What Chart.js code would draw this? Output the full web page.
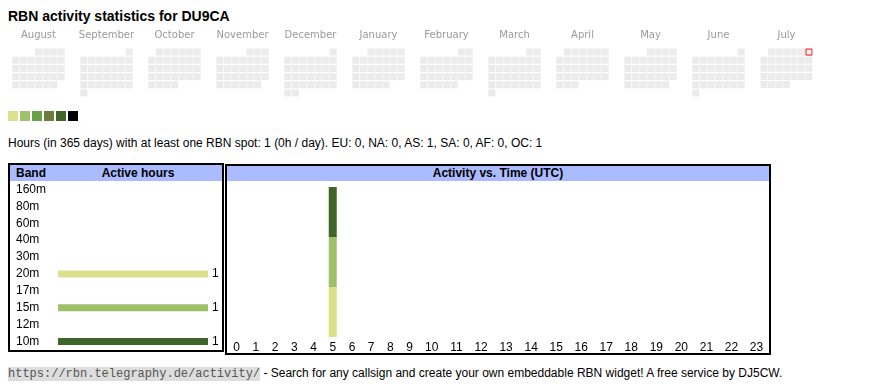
<!DOCTYPE html>
<html><head><meta charset="utf-8">
<script src="https://cdn.jsdelivr.net/npm/chart.js@4"></script>
<style>
html,body{margin:0;padding:0;background:#fff;}
body{width:870px;height:390px;position:relative;overflow:hidden;font-family:"Liberation Sans",Arial,sans-serif;font-size:12px;color:#000;}
#title{position:absolute;left:8px;top:8px;font-size:14px;font-weight:bold;line-height:16px;white-space:nowrap;}
#cal{position:absolute;left:7px;top:26px;display:flex;gap:5px;}
#cal canvas{display:block;}
#legend{position:absolute;left:8px;top:111px;display:flex;gap:2px;}
#legend span{width:10px;height:10px;display:block;}
#stats{position:absolute;left:8px;top:136px;line-height:14px;white-space:nowrap;}
.box{position:absolute;box-sizing:border-box;border:2px solid #000;background:#fff;}
.box canvas{display:block;}
#bandBox{left:8px;top:163px;width:216px;height:189px;}
#hourBox{left:225px;top:164px;width:546px;height:191px;}
.hdr{position:relative;background:#aabbff;font-weight:bold;font-size:12px;white-space:nowrap;}
#bandBox .hdr{height:16px;line-height:16px;}
#bandBox .hdr .c1{position:absolute;left:6px;top:0;}
#bandBox .hdr .c2{position:absolute;left:48px;width:160px;top:0;text-align:center;}
#hourBox .hdr{height:15px;line-height:15px;text-align:center;}
#footer{position:absolute;left:8px;top:366px;line-height:15px;white-space:nowrap;}
#footer code{font-family:"Liberation Mono",monospace;font-size:12px;background:#dddddd;color:#555;}
</style></head>
<body>
<div id="title"></div>
<div id="cal"></div>
<div id="legend"></div>
<div id="stats"></div>
<div class="box" id="bandBox"><div class="hdr"><span class="c1">Band</span><span class="c2">Active hours</span></div><canvas id="bandChart" width="212" height="169"></canvas></div>
<div class="box" id="hourBox"><div class="hdr">Activity vs. Time (UTC)</div><canvas id="hourChart" width="542" height="172"></canvas></div>
<div id="footer"><code>https://rbn.telegraphy.de/activity/</code> - Search for any callsign and create your own embeddable RBN widget! A free service by DJ5CW.</div>
<script>
// ---------- data ----------
const callsign = 'DU9CA';
const periodDays = 365;
const monthNames = ['August','September','October','November','December','January','February','March','April','May','June','July'];
const firstMonth = [2024, 8];           // year, month of the first calendar block
const todayDate = '2025-07-06';          // outlined in red
const activeDays = [];                   // days with a coloured level (none visible)
const activeDayLevels = [];
const levelColors = ['#dbe08b', '#9ec06a', '#6aa047', '#6b7b3b', '#3d6628', '#000000'];
const emptyCellColor = '#ebebeb';

const bands = ['160m','80m','60m','40m','30m','20m','17m','15m','12m','10m'];
const bandHours = [0, 0, 0, 0, 0, 1, 0, 1, 0, 1];
const bandColors = ['#000000','#3d6628','#6b7b3b','#6aa047','#b5cf7a','#dbe08b','#c4d27a','#9ec06a','#5c8a3a','#3d6628'];

const hourLabels = ['0','1','2','3','4','5','6','7','8','9','10','11','12','13','14','15','16','17','18','19','20','21','22','23'];
const hours20m = [0,0,0,0,0,1,0,0,0,0,0,0,0,0,0,0,0,0,0,0,0,0,0,0];
const hours15m = [0,0,0,0,0,1,0,0,0,0,0,0,0,0,0,0,0,0,0,0,0,0,0,0];
const hours10m = [0,0,0,0,0,1,0,0,0,0,0,0,0,0,0,0,0,0,0,0,0,0,0,0];

const continents = ['EU','NA','AS','SA','AF','OC'];
const continentHours = [0, 0, 1, 0, 0, 1];
const totalHours = 1;

// ---------- text ----------
document.getElementById('title').textContent = 'RBN activity statistics for ' + callsign;
document.getElementById('stats').textContent =
  'Hours (in ' + periodDays + ' days) with at least one RBN spot: ' + totalHours +
  ' (' + Math.round(totalHours / periodDays) + 'h / day). ' +
  continents.map((c, i) => c + ': ' + continentHours[i]).join(', ');
const legendEl = document.getElementById('legend');
levelColors.forEach(c => { const s = document.createElement('span'); s.style.background = c; legendEl.appendChild(s); });

Chart.defaults.font.family = '"Liberation Sans", Arial, sans-serif';
Chart.defaults.font.size = 12;
Chart.defaults.color = '#000';

// ---------- calendar ----------
const pad2 = n => (n < 10 ? '0' : '') + n;
const cellR = 3.5 / Math.SQRT1_2;
const todayR = 3 / Math.SQRT1_2;
const calEl = document.getElementById('cal');
monthNames.forEach((name, m) => {
  const mi = firstMonth[1] - 1 + m;
  const year = firstMonth[0] + Math.floor(mi / 12);
  const month = mi % 12 + 1;
  const nDays = new Date(year, month, 0).getDate();
  const firstWd = (new Date(year, month - 1, 1).getDay() + 6) % 7;
  const pts = [], bg = [], bc = [], bw = [], rr = [];
  for (let d = 1; d <= nDays; d++) {
    const idx = firstWd + d - 1;
    const key = year + '-' + pad2(month) + '-' + pad2(d);
    pts.push({x: idx % 7, y: Math.floor(idx / 7)});
    const ai = activeDays.indexOf(key);
    if (key === todayDate) { bg.push('#ffffff'); bc.push('#ff0000'); bw.push(1); rr.push(todayR); }
    else { bg.push(ai >= 0 ? levelColors[activeDayLevels[ai]] : emptyCellColor); bc.push('rgba(0,0,0,0)'); bw.push(0); rr.push(cellR); }
  }
  const cv = document.createElement('canvas');
  cv.width = 63; cv.height = 76;
  calEl.appendChild(cv);
  new Chart(cv, {
    type: 'scatter',
    data: { datasets: [{ data: pts, pointStyle: 'rect', pointRadius: rr, pointHoverRadius: rr,
      pointBackgroundColor: bg, pointBorderColor: bc, pointBorderWidth: bw, showLine: false }] },
    options: {
      responsive: false, animation: false, events: [], devicePixelRatio: 1,
      layout: { padding: 0 },
      plugins: { legend: { display: false }, tooltip: { enabled: false },
        title: { display: true, text: name, color: '#9a9a9a', padding: { top: 3.5, bottom: 6.5 },
          font: { family: '"DejaVu Sans", sans-serif', size: 10, weight: 'normal' } } },
      scales: {
        x: { type: 'linear', min: -0.5, max: 6.5, display: false },
        y: { type: 'linear', min: -0.5, max: 5.5, reverse: true, display: false }
      }
    }
  });
});

// ---------- band chart ----------
const valueLabels = {
  id: 'valueLabels',
  afterDatasetsDraw(chart) {
    const ctx = chart.ctx, meta = chart.getDatasetMeta(0);
    ctx.save();
    ctx.font = '12px "Liberation Sans", Arial, sans-serif';
    ctx.fillStyle = '#000'; ctx.textBaseline = 'middle'; ctx.textAlign = 'left';
    meta.data.forEach((bar, i) => {
      const v = chart.data.datasets[0].data[i];
      if (v > 0) ctx.fillText(String(v), bar.x + 4, bar.y);
    });
    ctx.restore();
  }
};
new Chart(document.getElementById('bandChart'), {
  type: 'bar',
  data: { labels: bands, datasets: [{ data: bandHours, backgroundColor: bandColors, barThickness: 7, borderWidth: 0, inflateAmount: 0 }] },
  options: {
    indexAxis: 'y', responsive: false, animation: false, events: [], devicePixelRatio: 1,
    layout: { padding: { left: 6, right: 14, top: 0, bottom: 0 } },
    plugins: { legend: { display: false }, tooltip: { enabled: false } },
    scales: {
      x: { display: false, min: 0, max: Math.max(...bandHours) },
      y: { ticks: { crossAlign: 'far', autoSkip: false, padding: 0, color: '#000', font: { size: 12 } },
           grid: { display: false, drawTicks: false }, border: { display: false },
           afterFit(s) { s.width = 42; s.paddingTop = 0; s.paddingBottom = 0; } }
    }
  },
  plugins: [valueLabels]
});

// ---------- hour chart ----------
// hour columns are as wide as their label plus cell padding (table layout)
const mctx = document.createElement('canvas').getContext('2d');
mctx.font = '12px "Liberation Sans", Arial, sans-serif';
const colW = hourLabels.map(l => mctx.measureText(l).width + 15.4);
const colTotal = colW.reduce((a, b) => a + b, 0);
const hourPos = colW.map((w, i) => colW.slice(0, i).reduce((a, b) => a + b, 0) + w / 2);
const hourSeries = [ ['20m', hours20m], ['15m', hours15m], ['10m', hours10m] ];
const stackMax = Math.max(...hourLabels.map((_, i) => hours20m[i] + hours15m[i] + hours10m[i]));
new Chart(document.getElementById('hourChart'), {
  type: 'bar',
  data: { datasets: hourSeries.map(([band, vals]) => ({
    label: band,
    data: vals.map((v, i) => ({ x: hourPos[i], y: v })),
    backgroundColor: bandColors[bands.indexOf(band)], barThickness: 8, borderWidth: 0, inflateAmount: 0
  })) },
  options: {
    responsive: false, animation: false, events: [], devicePixelRatio: 1,
    layout: { padding: { top: 6, left: 0, right: 0, bottom: 0 } },
    plugins: { legend: { display: false }, tooltip: { enabled: false } },
    scales: {
      x: { type: 'linear', stacked: true, min: 0, max: colTotal, offset: false,
           afterBuildTicks(s) { s.ticks = hourPos.map(v => ({ value: v })); },
           ticks: { autoSkip: false, maxRotation: 0, padding: 3, color: '#000', font: { size: 12 },
                    callback: (v, i) => hourLabels[i] },
           grid: { display: false, drawTicks: false, offset: false }, border: { display: false },
           afterFit(s) { s.height = 16; s.paddingLeft = 0; s.paddingRight = 0; } },
      y: { stacked: true, min: 0, max: stackMax, display: false }
    }
  }
});
</script>
</body></html>
